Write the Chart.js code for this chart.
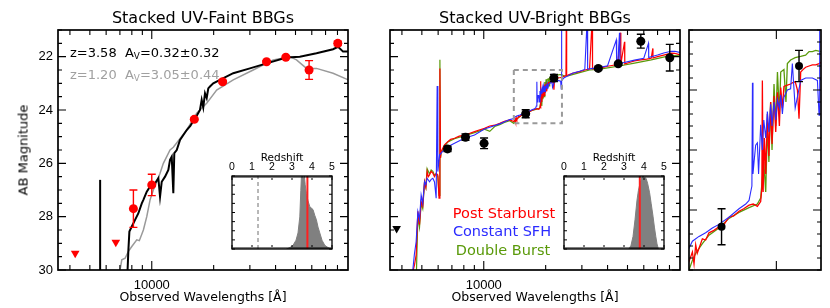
<!DOCTYPE html>
<html>
<head>
<meta charset="utf-8">
<title>Stacked BBG SEDs</title>
<script src="https://cdn.jsdelivr.net/npm/chart.js@4.4.1/dist/chart.umd.min.js"></script>
<style>
html,body{margin:0;padding:0;background:#ffffff;}
#fig{position:relative;width:830px;height:308px;overflow:hidden;background:#fff;}
#fig canvas{position:absolute;left:0;top:0;}
.lbl{position:absolute;white-space:pre;line-height:1;font-family:"DejaVu Sans",sans-serif;color:#000;transform:translate(-50%,-50%);z-index:5;}
.lft{transform:translate(0,-50%);}
.lbl sub{font-size:0.68em;vertical-align:-0.3em;line-height:0;}
</style>
</head>
<body>
<div id="fig">
  <canvas id="cFaint" width="830" height="308"></canvas>
  <canvas id="cBright" width="830" height="308"></canvas>
  <canvas id="cZoom" width="830" height="308"></canvas>
  <canvas id="cFaintPz" width="830" height="308"></canvas>
  <canvas id="cBrightPz" width="830" height="308"></canvas>

  <div class="lbl" style="left:203px;top:18px;font-size:16px;">Stacked UV-Faint BBGs</div>
  <div class="lbl" style="left:535px;top:18px;font-size:16px;">Stacked UV-Bright BBGs</div>
  <div class="lbl" style="left:203px;top:297px;font-size:12.5px;">Observed Wavelengths [Å]</div>
  <div class="lbl" style="left:535px;top:297px;font-size:12.5px;">Observed Wavelengths [Å]</div>
  <div class="lbl" style="left:23px;top:150px;font-size:13px;color:#000;transform:translate(-50%,-50%) rotate(-90deg);">AB Magnitude</div>
  <div class="lbl lft" style="left:70px;top:52px;font-size:13px;">z=3.58  A<sub>V</sub>=0.32±0.32</div>
  <div class="lbl lft" style="left:70px;top:74px;font-size:13px;color:#a0a0a0;">z=1.20  A<sub>V</sub>=3.05±0.44</div>
  <div class="lbl" style="left:282px;top:157px;font-size:10.5px;">Redshift</div>
  <div class="lbl" style="left:614px;top:157px;font-size:10.5px;">Redshift</div>
  <div class="lbl" style="left:504px;top:213px;font-size:14.5px;color:#ff0000;">Post Starburst</div>
  <div class="lbl" style="left:502px;top:231px;font-size:14.5px;color:#2b2bff;">Constant SFH</div>
  <div class="lbl" style="left:503px;top:250px;font-size:14.5px;color:#5a9a0a;">Double Burst</div>
</div>
<script>
// ---------------- axis ticks ----------------
const waveTicks = [4000,5000,6000,7000,8000,9000,10000,20000,30000,40000,50000,60000,70000,80000];
const waveLabels = [10000];
const magTicks = [21,21.5,22,22.5,23,23.5,24,24.5,25,25.5,26,26.5,27,27.5,28,28.5,29,29.5,30];
const magLabels = [22,24,26,28,30];
const zoomWaveTicks = [20000];
const zoomMagMajor = [23,23.5,24];
const zLabels = [0,1,2,3,4,5];

// ---------------- UV-faint stack (left panel) ----------------
const faintBestWave = [7600,7697,7784,7997,8295,8610,8943,9104,9456,9811,
  10375,10765,10972,11182,11603,12040,12270,12505,12730,12870,
  13226,13722,14790,15400,16098,16600,17157,17490,17800,18150,
  18500,18830,19190,19910,21460,24900,30010,36160,45220,52480,
  63240,76140,80520,85140,90400];
const faintBestMag = [30.3,29.25,28.56,28.37,28.12,27.87,27.5,27.37,27.06,26.87,
  26.75,26.56,27.25,26.69,26.5,26.25,25.87,25.75,27.12,25.62,
  25.5,25.12,24.75,24.6,24.35,24.2,24.0,23.62,23.9,23.37,
  23.55,23.19,23.12,23.0,22.87,22.62,22.44,22.25,22.03,22.0,
  21.87,21.72,21.63,21.81,21.81];
const faintAltWave = [6900,7150,7420,7700,7997,8455,8700,9104,9456,9811,
  10180,10575,10972,11384,11824,12270,12730,14790,16536,18490,
  20680,24900,31130,38940,46930,50570,56560,63240,76140,90400];
const faintAltMag = [30.3,29.62,29.56,29.3,29.12,28.87,28.9,28.5,28.0,27.37,
  27.0,26.69,26.37,26.0,25.75,25.5,25.4,24.75,24.12,23.75,
  23.25,22.87,22.5,22.12,22.0,22.12,22.44,22.44,22.62,22.87];
const faintLyaWave = [5610,5610];
const faintLyaMag = [30.5,26.62];
const faintPhotWave = [8142,10000,16098,22110,36160,44870,58210,80260];
const faintPhotMag  = [27.70,26.81,24.35,22.94,22.19,22.02,22.50,21.50];
const faintPhotErr  = [0.70,0.40,0.05,0.05,0.04,0.04,0.35,0.08];
const faintLimWave = [4243,6686];
const faintLimMag  = [29.37,28.96];
const faintPzZ = [2.72,2.9,3.05,3.2,3.3,3.39,3.44,3.47,3.52,3.58,3.62,3.66,3.72,3.8,3.89,3.97,4.05,4.14,4.22,4.3,4.39,4.5,4.64,4.8,4.95];
const faintPzP = [0,0.02,0.05,0.12,0.22,0.44,0.8,0.99,1.0,0.96,1.0,0.88,0.76,0.66,0.58,0.56,0.54,0.46,0.4,0.3,0.22,0.12,0.05,0.02,0];
const faintZBest = 3.77;
const faintZAlt = 1.30;

// ---------------- UV-bright stack (middle + right panels) ----------------
const psWave = [4375,4608,4690,4781,4870,4961,5050,5152,5230,5304,
  5380,5448,5550,5656,5760,5868,5981,6060,6120,6160,
  6205,6300,6444,6550,6686,6900,7207,7600,8058,8500,
  9015,9500,10080,10694,11300,11959,12600,13374,14000,14195,
  14290,14388,14480,14786,14985,15190,15500,15820,16150,16480,
  16800,17170,17500,17890,18200,18510,18760,18850,18890,18950,
  19050,19150,19280,19400,19540,19650,19810,19950,20090,20250,
  20360,20500,20630,20920,21200,21350,21600,21800,21940,22090,
  22300,22540,22860,23170,23500,23810,24000,24500,25100,25200,
  25300,25660,27000,29240,31000,32700,33710,33800,35880,38000,
  40000,42000,44870,46240,46400,48370,48500,51000,54080,58000,
  62000,65190,66370,66500,70000,75000,81500,85000,89430,92000];
const psMag = [30.5,29.8,29.44,27.8,28.3,27.44,27.6,26.69,26.9,26.31,
  26.5,26.44,26.3,26.37,26.5,26.37,26.44,27.31,22.44,25.8,
  25.56,25.45,25.31,25.25,25.19,25.1,25.06,24.98,24.94,24.88,
  24.81,24.75,24.69,24.6,24.57,24.5,24.42,24.37,24.43,24.35,
  24.45,24.29,24.36,24.24,24.25,24.19,24.17,24.14,24.12,24.06,
  24.05,24.01,23.99,23.96,23.95,23.97,23.93,23.82,22.92,23.85,
  23.4,23.7,23.2,23.55,23.1,23.45,23.05,23.35,23.02,23.3,
  22.98,23.15,22.97,22.96,22.95,22.94,22.93,23.0,23.24,22.85,
  22.83,22.81,22.8,22.79,22.79,22.78,22.77,22.74,22.72,20.5,
  22.7,22.69,22.62,22.56,22.5,22.46,20.5,22.46,22.44,22.4,
  22.36,22.33,22.29,21.1,22.28,21.44,22.27,22.22,22.16,22.12,
  22.09,22.06,21.69,22.05,22.0,21.94,21.87,21.88,21.92,21.93];
const csfhWave = [4200,4519,4600,4690,4781,4870,4961,5050,5152,5230,
  5304,5448,5550,5656,5760,5868,5934,5981,6095,6200,
  6300,6686,7207,8058,9015,10080,10694,11959,13374,14000,
  14195,14584,14985,15400,15820,16480,17170,17650,17890,18010,
  18100,18140,18180,18260,18380,18510,18600,18760,18890,19000,
  19150,19280,19400,19540,19650,19810,19950,20090,20250,20360,
  20500,20630,20920,21200,21350,21600,22090,22540,23170,23650,
  23810,23850,23900,24000,24500,25660,27000,29240,31000,31870,
  32000,33710,35880,40000,44100,44300,44870,45700,45900,47000,
  54080,60000,63240,63400,65190,70000,75000,81500,85000,89430,
  92000];
const csfhMag = [30.5,30.0,29.4,28.94,27.81,28.1,27.19,27.5,26.69,26.8,
  26.56,26.69,26.6,26.56,26.7,27.31,23.1,26.31,25.69,25.62,
  25.56,25.38,25.25,25.06,24.94,24.71,24.65,24.52,24.36,24.32,
  24.26,24.22,24.19,24.15,24.12,24.06,23.99,23.95,23.92,23.85,
  23.8,22.94,23.7,23.6,23.46,23.44,23.7,23.29,23.5,23.25,
  23.4,23.18,23.35,23.12,23.3,23.1,23.25,23.08,23.15,23.04,
  23.2,23.06,23.0,22.99,22.78,23.15,22.92,22.9,22.9,22.92,
  23.21,20.5,22.92,22.91,22.8,22.72,22.62,22.55,22.48,20.5,
  22.47,22.44,22.42,22.34,21.37,22.29,22.28,21.1,22.26,22.24,
  22.13,22.06,21.5,22.03,22.0,21.94,21.86,21.8,21.8,21.84,
  21.85];
const dbWave = [4690,4781,4870,4961,5050,5152,5230,5304,5448,5550,
  5656,5760,5868,5981,6060,6120,6160,6205,6444,6686,
  7207,8058,9015,10080,10694,11300,11959,12600,13374,14000,
  14195,14388,14786,15190,15820,16480,17170,17890,18510,18760,
  19000,19150,19280,19400,19540,19650,19810,19950,20090,20250,
  20360,20630,20800,20920,21200,21600,22090,22540,22860,23170,
  23490,24000,24500,25660,29240,32700,35880,40000,44870,54080,
  65190,81500,89430,92000];
const dbMag = [30.5,28.0,28.4,27.5,27.7,26.7,26.9,26.2,26.4,26.25,
  26.3,26.45,26.4,26.5,27.2,22.12,25.8,25.6,25.35,25.2,
  25.08,24.96,24.85,24.72,24.8,24.62,24.55,24.47,24.4,24.5,
  24.42,24.36,24.28,24.21,24.15,24.07,24.02,23.98,23.95,23.9,
  23.6,23.85,23.3,23.6,23.1,23.5,22.95,23.3,22.85,23.2,
  22.85,22.83,23.1,22.78,22.75,22.73,22.72,22.71,22.68,22.68,
  22.67,22.68,22.72,22.72,22.6,22.5,22.48,22.42,22.36,22.24,
  22.12,21.95,21.97,21.98];
const brightPhotWave = [6665,8150,10034,15990,21940,36050,45070,58030,80260];
const brightPhotMag  = [25.46,25.02,25.25,24.14,22.80,22.44,22.27,21.42,22.04];
const brightPhotErr  = [0.10,0.12,0.20,0.15,0.13,0.05,0.05,0.26,0.50];
const brightLimWave = [3770];
const brightLimMag  = [28.44];
const zoomBoxWave = [14000,24000,24000,14000,14000];
const zoomBoxMag  = [22.5,22.5,24.5,24.5,22.5];
const brightPzZ = [3.25,3.35,3.45,3.55,3.65,3.72,3.8,3.88,3.95,4.02,4.1,4.18,4.28,4.36,4.45,4.52,4.59,4.65,4.72];
const brightPzP = [0,0.05,0.17,0.4,0.67,0.8,0.9,0.97,1.0,0.98,0.97,0.9,0.77,0.62,0.45,0.3,0.17,0.07,0];
const brightZBest = 3.79;

// ---------------- helpers ----------------
const RED = '#ff0000', BLUE = '#2b2bff', GREEN = '#5a9a0a';
const TICKFONT = {family:'"Liberation Sans", Arial, sans-serif', size:13};
function pts(xs, ys){ return xs.map((x,i)=>({x:x, y:ys[i]})); }
function near(list, v){ return list.some(u=>Math.abs(u-v) < 1e-6*Math.max(1,Math.abs(u))); }
function steps(a, b, d){ const out=[]; for(let v=a; v<=b+1e-9; v+=d) out.push(Math.round(v*1000)/1000); return out; }

const idlFrame = {
  id:'idlFrame',
  beforeDraw(chart, args, o){
    if(!o || !o.background) return;
    const a=chart.chartArea, ctx=chart.ctx;
    ctx.save(); ctx.fillStyle=o.background;
    ctx.fillRect(a.left,a.top,a.right-a.left,a.bottom-a.top); ctx.restore();
  },
  afterDraw(chart, args, o){
    if(!o || !o.enabled) return;
    const ctx=chart.ctx, a=chart.chartArea, xs=chart.scales.x, ys=chart.scales.y;
    ctx.save();
    ctx.strokeStyle='#000';
    ctx.lineWidth=o.tickWidth;
    ctx.beginPath();
    (o.xTicks||[]).forEach(v=>{
      const p=xs.getPixelForValue(v);
      if(p<a.left-0.5||p>a.right+0.5) return;
      const L=near(o.xMajor||[],v)?o.xMajorLen:o.xMinorLen;
      ctx.moveTo(p,a.bottom); ctx.lineTo(p,a.bottom-L);
      ctx.moveTo(p,a.top); ctx.lineTo(p,a.top+L);
    });
    (o.yTicks||[]).forEach(v=>{
      const p=ys.getPixelForValue(v);
      if(p<a.top-0.5||p>a.bottom+0.5) return;
      const L=near(o.yMajor||[],v)?o.yMajorLen:o.yMinorLen;
      ctx.moveTo(a.left,p); ctx.lineTo(a.left+L,p);
      ctx.moveTo(a.right,p); ctx.lineTo(a.right-L,p);
    });
    ctx.stroke();
    ctx.lineWidth=o.frameWidth;
    ctx.strokeRect(a.left,a.top,a.right-a.left,a.bottom-a.top);
    ctx.restore();
  }
};
const errorBars = {
  id:'errorBars',
  afterDatasetsDraw(chart){
    const ctx=chart.ctx, a=chart.chartArea, xs=chart.scales.x, ys=chart.scales.y;
    chart.data.datasets.forEach(ds=>{
      if(!ds.errorBars) return;
      ctx.save();
      ctx.beginPath(); ctx.rect(a.left,a.top,a.right-a.left,a.bottom-a.top); ctx.clip();
      ctx.strokeStyle=ds.errorColor; ctx.lineWidth=1.4;
      ctx.beginPath();
      ds.data.forEach((p,j)=>{
        const e=ds.errorBars[j]; if(!e) return;
        const px=xs.getPixelForValue(p.x), y1=ys.getPixelForValue(p.y-e), y2=ys.getPixelForValue(p.y+e), c=4;
        ctx.moveTo(px,y1); ctx.lineTo(px,y2);
        ctx.moveTo(px-c,y1); ctx.lineTo(px+c,y1);
        ctx.moveTo(px-c,y2); ctx.lineTo(px+c,y2);
      });
      ctx.stroke();
      ctx.restore();
    });
  }
};
Chart.register(idlFrame, errorBars);

function lineDs(label, xs, ys, color, width, order, extra){
  return Object.assign({label, data:pts(xs,ys), borderColor:color, backgroundColor:color,
    borderWidth:width, pointRadius:0, fill:false, tension:0, order}, extra||{});
}
function pointDs(label, xs, ys, color, radius, style, errs){
  return {label, data:pts(xs,ys), showLine:false, pointRadius:radius, pointStyle:style,
    pointRotation: style==='triangle'?180:0, pointBackgroundColor:color, pointBorderColor:color,
    pointBorderWidth:0, borderColor:color, backgroundColor:color, order:0,
    errorBars: errs||null, errorColor: color};
}
function baseOptions(padding){
  return {responsive:false, maintainAspectRatio:false, animation:false, events:[],
    layout:{padding}, plugins:{legend:{display:false}, tooltip:{enabled:false}, title:{display:false}}};
}
function waveAxis(show, min, max, ticks){
  return {type:'logarithmic', min, max, display:show,
    afterBuildTicks: s=>{ s.ticks = ticks.map(v=>({value:v})); },
    afterFit: s=>{ s.height = show ? 38 : 0; },
    grid:{display:false, drawTicks:false}, border:{display:false},
    ticks:{autoSkip:false, maxRotation:0, minRotation:0, padding:8, font:TICKFONT, color:'#000',
      callback: v => near(waveLabels, v) ? String(v) : ''}};
}
function magAxis(show, min, max, ticks){
  return {type:'linear', reverse:true, min, max, display:show,
    afterBuildTicks: s=>{ s.ticks = ticks.map(v=>({value:v})); },
    afterFit: s=>{ s.width = show ? 58 : 0; },
    grid:{display:false, drawTicks:false}, border:{display:false},
    ticks:{autoSkip:false, padding:5, font:TICKFONT, color:'#000',
      callback: v => near(magLabels, v) ? String(v) : ''}};
}
const mainFrame = {enabled:true, xTicks:waveTicks, xMajor:waveLabels, yTicks:magTicks, yMajor:magLabels,
  xMajorLen:9, xMinorLen:5, yMajorLen:8, yMinorLen:4, tickWidth:1.1, frameWidth:1.7};

// ---------------- left panel ----------------
const optF = baseOptions({left:0, top:30, right:482, bottom:0});
optF.scales = {x:waveAxis(true,3500,90000,waveTicks), y:magAxis(true,21,30,magTicks)};
optF.plugins.idlFrame = mainFrame;
new Chart(document.getElementById('cFaint'), {type:'line', data:{datasets:[
  lineDs('z=1.20 fit', faintAltWave, faintAltMag, '#9a9a9a', 1.5, 4),
  lineDs('z=3.58 fit', faintBestWave, faintBestMag, '#000000', 2, 3),
  lineDs('Lyman-alpha', faintLyaWave, faintLyaMag, '#000000', 2, 3),
  pointDs('Photometry', faintPhotWave, faintPhotMag, RED, 4.5, 'circle', faintPhotErr),
  pointDs('Upper limits', faintLimWave, faintLimMag, RED, 5, 'triangle')
]}, options:optF});

// ---------------- middle panel ----------------
const optB = baseOptions({left:390, top:30, right:150, bottom:0});
optB.scales = {x:waveAxis(true,3500,90000,waveTicks), y:magAxis(false,21,30,magTicks)};
optB.plugins.idlFrame = mainFrame;
new Chart(document.getElementById('cBright'), {type:'line', data:{datasets:[
  lineDs('Double Burst', dbWave, dbMag, GREEN, 1.2, 4),
  lineDs('Post Starburst', psWave, psMag, RED, 1.2, 3),
  lineDs('Constant SFH', csfhWave, csfhMag, BLUE, 1.1, 2),
  lineDs('Zoom region', zoomBoxWave, zoomBoxMag, '#9a9a9a', 2, 1, {borderDash:[5,4]}),
  pointDs('Photometry', brightPhotWave, brightPhotMag, '#000000', 4.5, 'circle', brightPhotErr),
  pointDs('Upper limit', brightLimWave, brightLimMag, '#000000', 5, 'triangle')
]}, options:optB});

// ---------------- right (zoom) panel ----------------
const optZ = baseOptions({left:689, top:30, right:9, bottom:38});
optZ.scales = {x:waveAxis(false,14000,24000,zoomWaveTicks), y:magAxis(false,22.5,24.5,steps(22.5,24.5,0.1))};
optZ.plugins.idlFrame = {enabled:true, xTicks:zoomWaveTicks, xMajor:zoomWaveTicks, yTicks:steps(22.5,24.5,0.1), yMajor:zoomMagMajor,
  xMajorLen:9, xMinorLen:5, yMajorLen:8, yMinorLen:4, tickWidth:1.1, frameWidth:1.7};
new Chart(document.getElementById('cZoom'), {type:'line', data:{datasets:[
  lineDs('Double Burst', dbWave, dbMag, GREEN, 1.3, 4),
  lineDs('Post Starburst', psWave, psMag, RED, 1.3, 3),
  lineDs('Constant SFH', csfhWave, csfhMag, BLUE, 1.1, 2),
  pointDs('Photometry', brightPhotWave, brightPhotMag, '#000000', 4, 'circle', brightPhotErr)
]}, options:optZ});

// ---------------- P(z) insets ----------------
function pzChart(id, padLeft, zArr, pArr, zBest, zAlt){
  const opt = baseOptions({left:padLeft, top:162, right:830-padLeft-100, bottom:59});
  const zt = steps(0,5,0.1);
  opt.scales = {
    x:{type:'linear', position:'top', min:0, max:5,
      afterBuildTicks: s=>{ s.ticks = zLabels.map(v=>({value:v})); },
      afterFit: s=>{ s.height = 14; },
      grid:{display:false, drawTicks:false}, border:{display:false},
      ticks:{autoSkip:false, maxRotation:0, padding:3, color:'#000',
        font:{family:'"Liberation Sans", Arial, sans-serif', size:10.5}, callback: v=>String(v)}},
    y:{type:'linear', min:0, max:1, display:false, afterFit: s=>{ s.width = 0; }}
  };
  opt.plugins.idlFrame = {enabled:true, background:'#ffffff', xTicks:zt, xMajor:zLabels, yTicks:steps(0,1,0.125), yMajor:[],
    xMajorLen:4, xMinorLen:2, yMajorLen:3, yMinorLen:3, tickWidth:1, frameWidth:1.3};
  const ds = [lineDs('P(z)', zArr, pArr, '#808080', 1, 3, {fill:'origin', backgroundColor:'#808080'}),
              lineDs('Best z', [zBest,zBest], [0,1], '#ff2020', 2, 1)];
  if(zAlt!==null) ds.push(lineDs('Alt z', [zAlt,zAlt], [0,1], '#707070', 1, 2, {borderDash:[4,3]}));
  new Chart(document.getElementById(id), {type:'line', data:{datasets:ds}, options:opt});
}
pzChart('cFaintPz', 232, faintPzZ, faintPzP, faintZBest, faintZAlt);
pzChart('cBrightPz', 564, brightPzZ, brightPzP, brightZBest, null);
</script>
</body>
</html>
